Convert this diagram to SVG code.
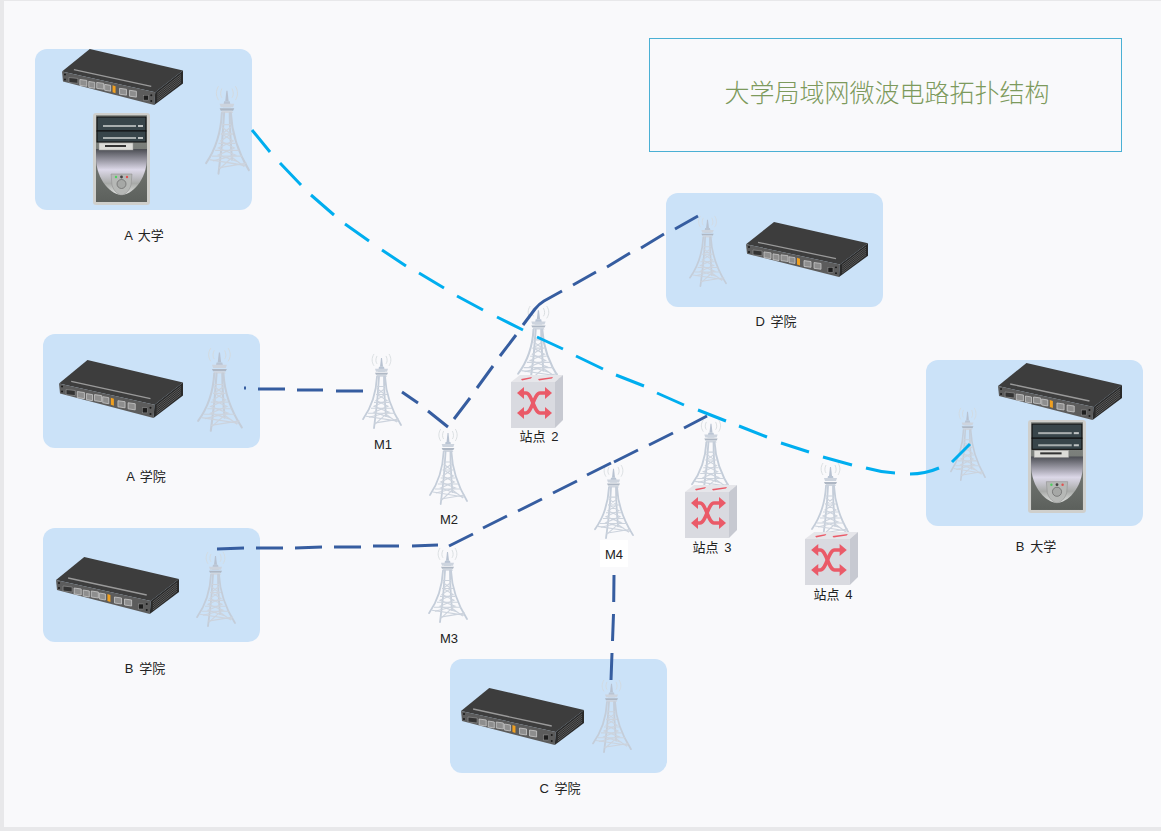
<svg xmlns="http://www.w3.org/2000/svg" width="1161" height="831" viewBox="0 0 1161 831">
<style>
.panel{fill:#cbe2f8}
.lbl{font-family:"Liberation Sans","Noto Sans CJK SC",sans-serif;font-size:13px;word-spacing:2px;fill:#222;text-anchor:middle}
.blue{fill:none;stroke:#365da0;stroke-width:3}
.cyan{fill:none;stroke:#00aeef;stroke-width:3}
</style>
<defs>
<linearGradient id="pcu" x1="0" y1="0" x2="0" y2="1"><stop offset="0" stop-color="#4a4c52"/><stop offset=".45" stop-color="#dcd8e8"/><stop offset=".75" stop-color="#a8aaa8"/><stop offset="1" stop-color="#e0e2e0"/></linearGradient>
<linearGradient id="pcb" x1="0" y1="0" x2="0" y2="1"><stop offset="0" stop-color="#8c908c"/><stop offset="1" stop-color="#5c605c"/></linearGradient>
<symbol id="router" viewBox="0 0 122 57" preserveAspectRatio="none" overflow="visible">
<polygon points="0,23 28,0 122,22 94,44" fill="#3d3d3d"/>
<polygon points="0,23 94,44 93,57 1,33" fill="#5c5c5c"/>
<polygon points="94,44 122,22 122,35 93,57" fill="#2a2a2a"/>
<polyline points="12,21 90,38" stroke="#9a9a9a" stroke-width="1.3" fill="none"/>
<g fill="#8e8e8e" stroke="#c8c8c8" stroke-width=".8">
<polygon points="18,31 25,32 25,38 18,37"/><polygon points="27,33 33,34 33,40 27,39"/><polygon points="35,34 42,35 42,41 35,40"/><polygon points="43,36 49,37 49,43 43,42"/>
<polygon points="58,40 65,41 65,47 58,46"/><polygon points="68,42 75,43 75,49 68,48"/>
</g>
<polygon points="7,29 16,30 16,35 7,34" fill="#333" stroke="#999" stroke-width=".6"/>
<polygon points="51,37 54,38 54,45 51,44" fill="#f0a020"/>
<rect x="82" y="47" width="5" height="5" fill="#1e1e1e" stroke="#aaa" stroke-width=".4"/>
<g fill="#1a1a1a"><circle cx="3" cy="26" r="1"/><circle cx="3" cy="31" r="1"/><circle cx="90" cy="47" r="1"/><circle cx="90" cy="53" r="1"/></g>
<g stroke="#8a8a8a" stroke-width=".5"><path d="M96,45 120,26M96,47 120,28M96,49 120,30M96,51 120,32M96,53 120,34"/></g>
</symbol>
<symbol id="pc" viewBox="0 0 57 92" preserveAspectRatio="none" overflow="visible">
<rect width="57" height="92" rx="3" fill="#cfcfcc"/>
<rect x="3" y="2" width="51" height="87" fill="url(#pcb)"/>
<path d="M3,36 H54 V44 C54,68 38,82 28.500,82 C19,82 3,68 3,44Z" fill="url(#pcu)"/>
<rect x="4" y="4" width="49" height="14" fill="#38454a" stroke="#0e0e0e"/>
<rect x="4" y="18" width="49" height="11" fill="#38454a" stroke="#0e0e0e"/>
<rect x="10" y="12" width="33" height="2" fill="#a8aeae"/><rect x="45" y="12" width="5" height="2" fill="#c0c4c4"/>
<rect x="10" y="24" width="33" height="2" fill="#a8aeae"/><rect x="45" y="24" width="5" height="2" fill="#c0c4c4"/>
<rect x="6" y="30" width="34" height="7" fill="#dcdcd8" stroke="#999" stroke-width=".5"/>
<rect x="12" y="32" width="21" height="2" fill="#333"/>
<path d="M18,61 H39 L38,72 C36,79 31,82 28.500,82 C26,82 21,79 19,72Z" fill="#b6b8b6" stroke="#8a8a8a" stroke-width=".5"/>
<circle cx="28.500" cy="71" r="4.500" fill="#a6a8a6" stroke="#666" stroke-width=".7"/>
<circle cx="23" cy="64" r="1.200" fill="#4cd060"/><circle cx="28.500" cy="64" r="1.400" fill="#444"/><circle cx="34" cy="64" r="1.200" fill="#e05050"/>
</symbol>
<symbol id="tower" viewBox="0 0 40 78" preserveAspectRatio="none" overflow="visible">
<g fill="none" stroke="#d4d9dc" stroke-width=".8"><path d="M15,3 C13.500,6 13.500,9 15,11M12,1 C9.500,5 9.500,9 12,13M24,3 C25.500,6 25.500,9 24,11M27,1 C29.500,5 29.500,9 27,13"/></g>
<polygon points="19,5 20,5 21,14 18,14" fill="#b8c2d1"/>
<polygon points="17,14 22,14 23,19 16,19" fill="#bac5d4"/>
<polygon points="13,16 26,16 25,19 14,19" fill="#cdd4de"/>
<polygon points="13,20 26,20 25,22 14,22" fill="#aeb7c4"/>
<polygon points="15,22 24,22 25,24 14,24" fill="#d0d6df"/>
<g fill="none" stroke="#c4cdd9" stroke-width="1.800" stroke-linecap="round">
<path d="M15,24 C14,43 8,57 1,67"/>
<path d="M17,24 C16,45 14,62 12,76"/>
<path d="M23,24 C24,45 31,60 39,73"/>
<path d="M22,24 C22,40 23,52 24,64"/>
</g>
<g fill="none" stroke="#ccd3dd" stroke-width="1.100">
<path d="M15,34 H23M14,42 H25M12,50 H27M9,56 H30M6,61 H33M4,64 L36,69M12,71 L37,67"/>
<path d="M15,36 L23,42 L14,48 L26,54 L12,60 L30,66M23,36 L15,42 L25,48 L12,54 L27,60 L7,65M13,72 L24,62 L35,70"/>
</g>
</symbol>
<symbol id="switch" viewBox="0 0 52 53" preserveAspectRatio="none" overflow="visible">
<polygon points="0,7 9,0 52,0 44,7" fill="#e6e6ea"/>
<rect y="7" width="44" height="46" fill="#d9dae0"/>
<polygon points="44,7 52,0 52,45 44,53" fill="#c7c9d1"/>
<g fill="none" stroke="#ea5a68" stroke-width="3.500">
<path d="M11,18 H15 C21,18 23,38 29,38 H36"/><path d="M11,38 H15 C21,38 23,18 29,18 H36"/>
</g>
<g fill="#ea5a68"><polygon points="6,18 13,12 13,24"/><polygon points="6,38 13,32 13,44"/><polygon points="41,18 34,12 34,24"/><polygon points="41,38 34,32 34,44"/>
<polygon points="10,4 21,2 20,3.500 11,5.500"/><polygon points="27,4 42,2 41,3.500 28,5.500"/></g>
</symbol>
</defs>
<rect width="1161" height="831" fill="#e8e8ea"/>
<rect x="4" y="1" width="1157" height="826" fill="#f9f9fb"/>

<g id="title"><rect x="649.500" y="38.500" width="472" height="113" fill="none" stroke="#4bb0d4" stroke-width="1"/>
<text x="887" y="102" text-anchor="middle" font-family="Noto Sans CJK SC,sans-serif" font-weight="300" font-size="25" fill="#7d9a5c">大学局域网微波电路拓扑结构</text></g>

<g id="a-univ"><rect class="panel" x="35" y="49" width="217" height="161" rx="12"/>
<use href="#router" x="62" y="49" width="121" height="56"/><use href="#pc" x="93" y="113" width="57" height="92"/><use href="#tower" x="205" y="85" width="45" height="91"/>
<text class="lbl" x="144" y="240">A 大学</text></g>
<g id="d-college"><rect class="panel" x="666" y="193" width="217" height="114" rx="12"/>
<use href="#tower" x="689" y="215" width="38" height="73"/><use href="#router" x="746" y="222" width="122" height="55"/>
<text class="lbl" x="776" y="326">D 学院</text></g>
<g id="a-college"><rect class="panel" x="43" y="334" width="217" height="114" rx="12"/>
<use href="#router" x="59" y="360" width="124" height="58"/><use href="#tower" x="197" y="347" width="46" height="86"/>
<text class="lbl" x="146" y="481">A 学院</text></g>
<g id="b-college"><rect class="panel" x="43" y="528" width="217" height="114" rx="12"/>
<use href="#router" x="56" y="557" width="123" height="57"/><use href="#tower" x="196" y="551" width="40" height="77"/>
<text class="lbl" x="145" y="673">B 学院</text></g>
<g id="c-college"><rect class="panel" x="450" y="659" width="217" height="114" rx="12"/>
<use href="#router" x="461" y="688" width="123" height="57"/><use href="#tower" x="592" y="679" width="40" height="75"/>
<text class="lbl" x="560" y="793">C 学院</text></g>
<g id="b-univ"><rect class="panel" x="926" y="360" width="217" height="166" rx="12"/>
<use href="#router" x="998" y="363" width="124" height="57"/><use href="#pc" x="1028" y="420" width="58" height="93"/><use href="#tower" x="950" y="407" width="36" height="75"/>
<text class="lbl" x="1036" y="551">B 大学</text></g>

<g id="m1"><use href="#tower" x="362" y="353" width="40" height="77"/><text class="lbl" x="383" y="449">M1</text></g>
<g id="m2"><use href="#tower" x="429" y="428" width="39" height="78"/><text class="lbl" x="449" y="524">M2</text></g>
<g id="m3"><use href="#tower" x="428" y="547" width="40" height="77"/><text class="lbl" x="449" y="643">M3</text></g>
<g id="m4"><use href="#tower" x="594" y="464" width="40" height="76"/><rect x="600" y="540" width="28" height="27" fill="#fff"/><text class="lbl" x="614" y="559">M4</text></g>
<g id="site2"><use href="#tower" x="517" y="305" width="44" height="80"/><use href="#switch" x="511" y="375" width="52" height="53"/><text class="lbl" x="539" y="441">站点 2</text></g>
<g id="site3"><use href="#tower" x="691" y="419" width="41" height="76"/><use href="#switch" x="685" y="485" width="52" height="53"/><text class="lbl" x="712" y="552">站点 3</text></g>
<g id="site4"><use href="#tower" x="811" y="462" width="40" height="78"/><use href="#switch" x="805" y="532" width="53" height="53"/><text class="lbl" x="833" y="599">站点 4</text></g>

<g id="connectors">
<path class="cyan" d="M252,130 L270,152 M280,163 L301,185 M311,195 L334,215 M345,224 L369,241 M382,250 L406,266 M419,273 L444,288 M457,296 L483,310 M497,317 L523,330 M537,337 L563,349 M576,356 L603,369 M616,375 L644,386 M657,393 L684,405 M698,410 L726,421 M739,426 L767,437 M781,443 L809,452 M823,457 L852,465 M866,468 Q880,472 895,473 M910,474 Q925,474 939,468 M952,462 L970,444"/>
<path class="blue" d="M244,388 L246,388 M258,389 L285,389 M297,390 L323,390 M336,391 L363,391"/>
<path class="blue" d="M402,392 L418,403 M428,411 L448,427 M454,419 L470,398 M477,388 L493,366 M500,356 L516,335 M523,325 L535,309 Q539,304 544,301 L562,291 M573,285 L596,272 M607,267 L630,253 M641,248 L664,234 M675,229 L698,216"/>
<path class="blue" d="M217,549 L244,548 M256,548 L283,548 M295,548 L322,547 M334,547 L361,547 M373,546 L399,546 M412,546 L438,545 M449,546 L473,534 M483,528 L507,516 M518,511 L542,499 M553,493 L577,481 M587,475 L611,463 M614,462 L638,450 M649,445 L673,433 M684,428 L707,416"/>
<path class="blue" d="M614,575 L613.700,602 M613.500,614 L612.500,641 M612,653 L611,680"/>
</g>
</svg>
